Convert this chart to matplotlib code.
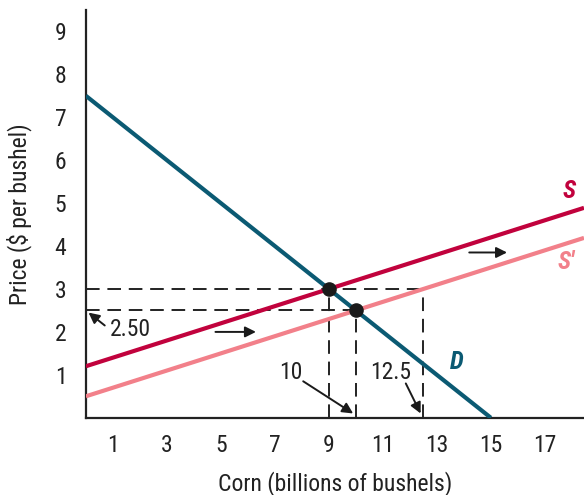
import numpy as np
import matplotlib
matplotlib.use("Agg")
import matplotlib.pyplot as plt
from matplotlib import font_manager

# Prefer a narrow sans face when one is installed
_installed = {f.name for f in font_manager.fontManager.ttflist}
_narrow = [n for n in _installed if "Narrow" in n or "Condensed" in n]
_choice = next((n for n in ["Liberation Sans Narrow", "Roboto Condensed", "Open Sans Condensed"]
                if n in _installed), None) or (_narrow[0] if _narrow else "Roboto")
plt.rcParams['font.family'] = [_choice, 'DejaVu Sans']

# Linear curves: price = intercept + slope * quantity
demand = (7.5, -0.5)      # D
supply = (1.2, 0.2)       # S
supply_new = (0.5, 0.2)   # S'

eq_old = (9, 3.0)
eq_new = (10, 2.5)
qty_supplied_new = 12.5   # quantity on S' at the old price

x_ticks = [1, 3, 5, 7, 9, 11, 13, 15, 17]
y_ticks = [1, 2, 3, 4, 5, 6, 7, 8, 9]

c_d = "#0b5a73"
c_s = "#c1023d"
c_s2 = "#f2808a"
ink = "#222222"
fs = 17

fig = plt.figure(figsize=(5.84, 4.95), dpi=100)
ax = fig.add_axes([0.147, 0.156, 0.853, 0.824])
xmax, ymax = 18.45, 9.5
ax.set_xlim(0, xmax)
ax.set_ylim(0, ymax)

xs = np.array([0, xmax])
ax.plot(xs, supply[0] + supply[1] * xs, color=c_s, lw=3, solid_capstyle='butt', zorder=3)
ax.plot(xs, supply_new[0] + supply_new[1] * xs, color=c_s2, lw=3, solid_capstyle='butt', zorder=3)
xd = np.array([0, -demand[0] / demand[1]])
ax.plot(xd, demand[0] + demand[1] * xd, color=c_d, lw=3, solid_capstyle='butt', zorder=4)

dash = dict(color=ink, lw=1.4, dashes=(7, 4), zorder=2)
ax.plot([0, qty_supplied_new], [eq_old[1], eq_old[1]], **dash)
ax.plot([eq_old[0], eq_old[0]], [0, eq_old[1]], **dash)
ax.plot([qty_supplied_new, qty_supplied_new], [0, eq_old[1]], **dash)
ax.plot([0, eq_new[0]], [eq_new[1], eq_new[1]], **dash)
ax.plot([eq_new[0], eq_new[0]], [0, eq_new[1]], **dash)

ax.scatter([eq_old[0], eq_new[0]], [eq_old[1], eq_new[1]], s=90, color="#1a1a1a", zorder=6)

arrow = dict(arrowstyle="-|>", color="#1a1a1a", lw=1.4, mutation_scale=16, shrinkA=0, shrinkB=0)
ax.text(0.9, 2.05, "2.50", fontsize=fs, ha="left", va="center", color=ink)
ax.annotate("", xy=(0.1, eq_new[1] - 0.05), xytext=(0.7, 2.15), arrowprops=arrow)
ax.text(7.6, 1.05, "10", fontsize=fs, ha="center", va="center", color=ink)
ax.annotate("", xy=(9.9, 0.1), xytext=(8.05, 0.85), arrowprops=arrow)
ax.text(11.3, 1.05, "12.5", fontsize=fs, ha="center", va="center", color=ink)
ax.annotate("", xy=(12.4, 0.1), xytext=(11.85, 0.8), arrowprops=arrow)

# shift arrows
ax.annotate("", xy=(6.3, 2.0), xytext=(4.8, 2.0), arrowprops=arrow)
ax.annotate("", xy=(15.6, 3.85), xytext=(14.2, 3.85), arrowprops=arrow)

ax.text(17.9, 5.28, "S", color=c_s, fontsize=18, fontweight="bold", style="italic",
        ha="center", va="center")
ax.text(17.8, 3.62, "S\u2032", color=c_s2, fontsize=18, fontweight="bold", style="italic",
        ha="center", va="center")
ax.text(13.75, 1.3, "D", color=c_d, fontsize=18, fontweight="bold", style="italic",
        ha="center", va="center")

ax.set_xticks(x_ticks)
ax.set_yticks(y_ticks)
ax.tick_params(length=0, labelsize=fs, colors=ink, pad=12)
ax.tick_params(axis="y", pad=14)
for s in ["top", "right"]:
    ax.spines[s].set_visible(False)
for s in ["left", "bottom"]:
    ax.spines[s].set_linewidth(1.6)
    ax.spines[s].set_color(ink)

ax.set_xlabel("Corn (billions of bushels)", fontsize=fs, color=ink, labelpad=10)
ax.set_ylabel("Price ($ per bushel)", fontsize=fs, color=ink, labelpad=16)

fig.savefig("out.png", dpi=100)
